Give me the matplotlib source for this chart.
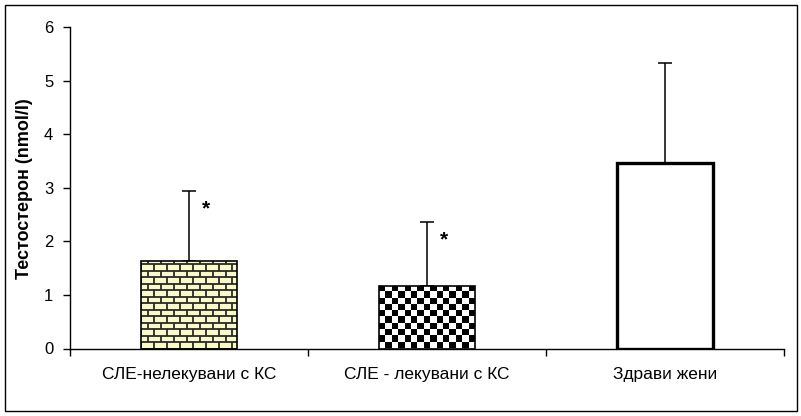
import numpy as np
import matplotlib
matplotlib.use("Agg")
import matplotlib.pyplot as plt
from matplotlib.collections import LineCollection
from matplotlib.patches import Rectangle

plt.rcParams['font.family'] = ['Liberation Sans', 'DejaVu Sans']

# data
groups = ['СЛЕ-нелекувани с КС', 'СЛЕ - лекувани с КС', 'Здрави жени']
means = [1.64, 1.165, 3.455]
sds = [1.30, 1.205, 1.875]
significant = [True, True, False]
ylabel = 'Тестостерон (nmol/l)'

W, H = 801, 416
fig = plt.figure(figsize=(W / 100, H / 100), dpi=100)
ax = fig.add_axes([70 / W, 1 - 348.5 / H, 714 / W, 321.5 / H])

x = np.arange(len(groups))
bw = 0.4
ax.set_xlim(-0.5, len(groups) - 0.5)
ax.set_ylim(0, 6)

# pixels per data unit, used to size the fill patterns
px_x = 714 / len(groups)
px_y = 321.5 / 6

faces = ['#fafac8', 'white', 'white']
bars = ax.bar(x, means, width=bw, color=faces, edgecolor='none', zorder=2)
outl = ax.bar(x, means, width=bw, fill=False,
              edgecolor='black', linewidth=[1.2, 1.2, 2.4], zorder=4)

# brick pattern in the first bar
b = bars[0]
x0, w = b.get_x(), b.get_width()
h = b.get_height()
row = 6.5 / px_y
brick = 13 / px_x
segs = []
nrows = int(np.ceil(h / row))
for r in range(nrows + 1):
    yb = r * row
    segs.append([(x0, yb), (x0 + w, yb)])
    off = 0 if r % 2 == 0 else brick / 2
    xs = x0 - brick + off
    while xs < x0 + w + brick:
        segs.append([(xs, yb), (xs, yb + row)])
        xs += brick
lc = LineCollection(segs, colors='#2a2a2a', linewidths=1.3, zorder=3)
ax.add_collection(lc)
lc.set_clip_path(b)

# checkerboard in the second bar
b = bars[1]
x0, w = b.get_x(), b.get_width()
h = b.get_height()
cell = 6.3
nx = int(round(w * px_x / cell))
ny = int(round(h * px_y / cell))
board = (np.add.outer(np.arange(ny), np.arange(nx)) % 2).astype(float)
im = ax.imshow(board, cmap='gray', extent=[x0, x0 + w, 0, h],
               interpolation='nearest', aspect='auto', zorder=3)
im.set_clip_path(b)
ax.set_xlim(-0.5, len(groups) - 0.5)
ax.set_ylim(0, 6)

# upper error bars
ax.errorbar(x, means, yerr=[np.zeros(len(sds)), sds], fmt='none',
            ecolor='black', elinewidth=1.1, capsize=5, capthick=1.1, zorder=1)

for xi, m, s, sig in zip(x, means, sds, significant):
    if sig:
        ax.text(xi + 0.07, m + s - 0.34, '*', fontsize=15, fontweight='bold',
                ha='center', va='center')

ax.spines['top'].set_visible(False)
ax.spines['right'].set_visible(False)
ax.spines['left'].set_linewidth(1.0)
ax.spines['bottom'].set_linewidth(1.0)

ax.set_yticks(range(0, 7))
ax.tick_params(axis='y', direction='out', length=5, width=1, labelsize=12, pad=7)
ax.set_xticks(np.arange(-0.5, len(groups), 1.0))
ax.set_xticklabels([])
ax.tick_params(axis='x', which='major', direction='out', length=5, width=1)
ax.set_xticks(x, minor=True)
ax.set_xticklabels(groups, minor=True, fontsize=12.5)
ax.tick_params(axis='x', which='minor', length=0, pad=13)

fig.text(25 / W, 1 - 189 / H, ylabel, rotation=90, ha='center', va='center',
         fontsize=13, fontweight='bold')

# frame around the whole figure
fig.patches.append(Rectangle((4.5 / W, 5 / H), 792 / W, 406 / H, fill=False,
                             edgecolor='black', linewidth=1.0,
                             transform=fig.transFigure))

fig.savefig('out.png', dpi=100)
